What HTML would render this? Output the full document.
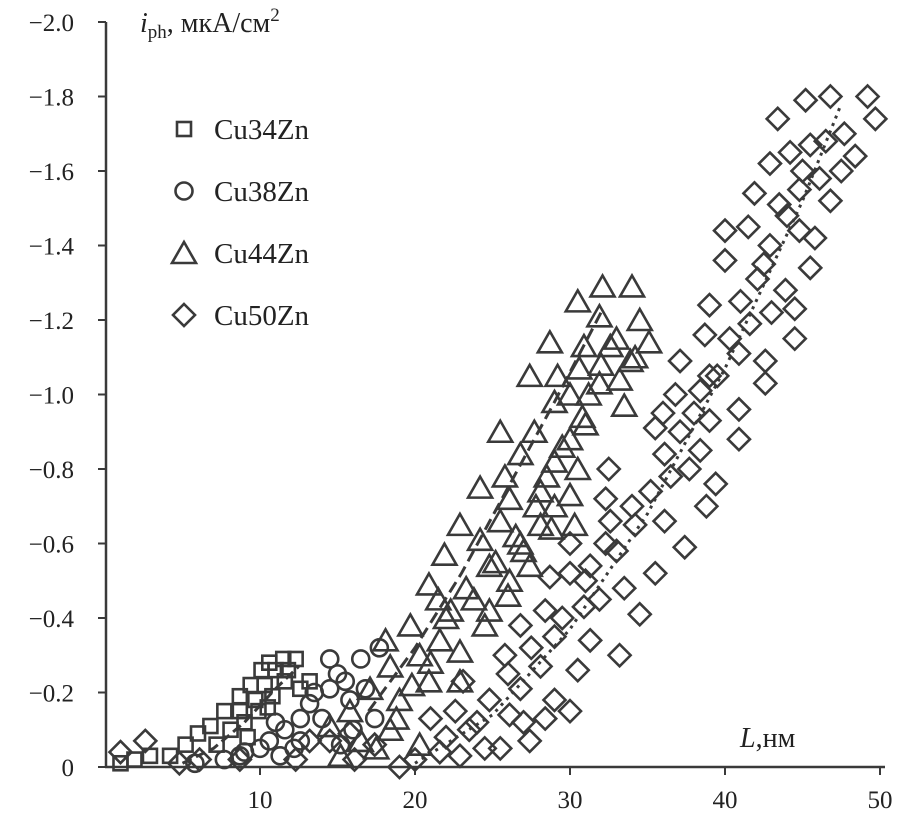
<!DOCTYPE html>
<html><head><meta charset="utf-8"><style>
html,body{margin:0;padding:0;background:#fff;}
svg text{font-family:"Liberation Serif",serif;fill:#222;}
</style></head><body>
<svg id="chart" width="900" height="814" xmlns="http://www.w3.org/2000/svg">
<g id="marks"></g>
<g id="axes"></g>
<text x="140" y="32" font-size="28" font-style="italic">i<tspan font-size="19" dy="6" font-style="normal">ph</tspan><tspan dy="-6" font-style="normal">, мкА/см</tspan><tspan font-size="19" dy="-11" font-style="normal">2</tspan></text>
<text x="740" y="747" font-size="28"><tspan font-style="italic">L</tspan>,нм</text>
<g id="legend"></g>
</svg>
<script>
const NS="http://www.w3.org/2000/svg";
const yTicks=[0,-0.2,-0.4,-0.6,-0.8,-1.0,-1.2,-1.4,-1.6,-1.8,-2.0];
const xTicks=[10,20,30,40,50];
const seriesNames=["Cu34Zn","Cu38Zn","Cu44Zn","Cu50Zn"];
const sqL=[10.6,11.5,12.3,10.1,11.0,9.4,10.3,11.6,8.7,9.7,7.7,8.7,6.8,6.0,5.2,4.2,2.9,1.9,1.0,8.1,9.0,9.9,12.6,13.2,10.8,9.2,10.5,7.2,11.8];
const sqI=[-0.28,-0.29,-0.29,-0.26,-0.26,-0.22,-0.22,-0.23,-0.19,-0.18,-0.15,-0.15,-0.11,-0.09,-0.06,-0.03,-0.03,-0.02,-0.01,-0.10,-0.12,-0.15,-0.21,-0.23,-0.19,-0.08,-0.16,-0.06,-0.26];
const ciL=[17.7,16.5,14.5,15.5,14.5,13.2,12.6,11.6,10.6,10.0,8.7,15.8,14.0,12.6,16.8,15.2,17.4,11.3,7.7,5.8,13.5,15.0,16.0,12.2,11.0,9.0];
const ciI=[-0.32,-0.29,-0.29,-0.23,-0.21,-0.17,-0.13,-0.10,-0.07,-0.05,-0.03,-0.18,-0.13,-0.07,-0.21,-0.06,-0.13,-0.03,-0.02,-0.01,-0.20,-0.25,-0.10,-0.05,-0.12,-0.04];
const trL=[32.1,34.0,30.5,31.9,34.5,28.7,35.1,30.9,32.6,33.9,30.6,27.4,31.9,30.0,29.0,33.5,30.8,25.5,27.7,30.0,26.8,29.0,24.2,28.1,26.1,30.0,22.9,25.5,28.1,30.3,24.2,26.8,21.9,24.8,27.4,20.9,23.3,19.7,22.3,24.8,21.6,20.3,18.1,22.9,18.4,20.9,17.1,15.8,19.0,14.5,16.5,18.4,20.3,15.2,22.9,26.1,29.0,25.2,26.5,27.8,28.5,29.5,31.2,32.0,33.0,31.0,27.0,23.8,22.0,21.0,19.8,18.8,17.5,24.5,26.0,28.8,30.5,33.2,34.2,21.5,25.8,29.2];
const trI=[-1.29,-1.29,-1.25,-1.21,-1.20,-1.14,-1.14,-1.13,-1.13,-1.09,-1.07,-1.05,-1.03,-1.00,-0.98,-0.97,-0.94,-0.90,-0.90,-0.88,-0.84,-0.82,-0.75,-0.74,-0.72,-0.73,-0.65,-0.66,-0.65,-0.65,-0.61,-0.60,-0.57,-0.54,-0.54,-0.49,-0.48,-0.38,-0.42,-0.42,-0.34,-0.30,-0.34,-0.31,-0.27,-0.23,-0.21,-0.15,-0.18,-0.11,-0.07,-0.10,-0.06,-0.03,-0.23,-0.50,-0.70,-0.55,-0.62,-0.70,-0.78,-0.86,-1.00,-1.08,-1.15,-0.92,-0.58,-0.45,-0.40,-0.28,-0.22,-0.13,-0.05,-0.38,-0.46,-0.64,-0.80,-1.04,-1.10,-0.45,-0.78,-1.05];
const diL=[46.8,45.2,49.2,49.7,43.4,47.7,45.5,44.2,48.4,42.9,46.1,44.8,41.9,46.8,43.5,40.0,44.8,42.9,40.0,45.5,42.1,43.9,39.0,44.5,41.6,40.3,44.5,38.7,40.9,42.6,37.1,39.0,42.6,38.4,40.9,39.0,37.1,35.5,40.9,38.4,36.1,32.5,37.7,35.2,39.4,32.3,36.1,34.2,32.6,37.4,35.5,32.3,30.0,31.3,28.7,30.0,34.5,30.9,28.4,31.9,26.8,29.0,31.3,33.2,25.8,28.1,23.1,26.8,29.0,24.8,22.6,26.1,28.4,30.0,21.0,23.5,27.4,25.5,21.6,19.0,20.0,22.9,15.8,14.5,17.4,13.2,8.7,6.1,2.6,1.0,4.8,12.3,16.1,24,26,27.5,29.5,31,33,34,36.5,38,39.5,41,42.5,44,45,46.5,47.5,43,38.8,36,33.5,27,30.5,22,24.5,36.8,45.8,41.5];
const diI=[-1.80,-1.79,-1.80,-1.74,-1.74,-1.70,-1.67,-1.65,-1.64,-1.62,-1.58,-1.55,-1.54,-1.52,-1.51,-1.44,-1.44,-1.40,-1.36,-1.34,-1.31,-1.28,-1.24,-1.23,-1.19,-1.15,-1.15,-1.16,-1.11,-1.09,-1.09,-1.05,-1.03,-1.01,-0.96,-0.93,-0.90,-0.91,-0.88,-0.85,-0.84,-0.80,-0.80,-0.74,-0.76,-0.72,-0.66,-0.65,-0.66,-0.59,-0.52,-0.60,-0.60,-0.54,-0.51,-0.52,-0.41,-0.43,-0.42,-0.45,-0.38,-0.35,-0.34,-0.30,-0.30,-0.27,-0.23,-0.21,-0.18,-0.18,-0.15,-0.14,-0.13,-0.15,-0.13,-0.10,-0.07,-0.05,-0.04,0,-0.02,-0.03,-0.09,-0.07,-0.06,-0.07,-0.02,-0.02,-0.07,-0.04,-0.01,-0.02,-0.02,-0.12,-0.25,-0.32,-0.40,-0.50,-0.58,-0.70,-0.78,-0.95,-1.05,-1.25,-1.35,-1.48,-1.60,-1.68,-1.60,-1.22,-0.70,-0.95,-0.48,-0.12,-0.26,-0.08,-0.05,-1.00,-1.42,-1.45];
const fitSqL=[5,7,9,11,12.5];const fitSqI=[-0.01,-0.05,-0.12,-0.21,-0.27];
const fitTrL=[17,20,23,26,29,32];const fitTrI=[-0.15,-0.32,-0.52,-0.75,-0.98,-1.22];
const fitDiL=[20,25,30,35,40,45,47.5];const fitDiI=[-0.01,-0.14,-0.37,-0.68,-1.07,-1.52,-1.78];

const xS=v=>105+v*15.5;
const yS=v=>767+v*372.5;
const C="#3a3a3a";
const marks=document.getElementById('marks'),axes=document.getElementById('axes'),legend=document.getElementById('legend');
function mk(tag,attrs,parent){const e=document.createElementNS(NS,tag);for(const k in attrs)e.setAttribute(k,attrs[k]);parent.appendChild(e);return e;}
function shape(kind,cx,cy,parent){
  const st={fill:"none",stroke:C,"stroke-width":2.6};
  let e;
  if(kind===0){e=mk('rect',Object.assign({x:cx-7,y:cy-7,width:14,height:14},st),parent);}
  else if(kind===1){e=mk('circle',Object.assign({cx:cx,cy:cy,r:8.5},st),parent);}
  else if(kind===2){e=mk('polygon',Object.assign({points:`${cx},${cy-11} ${cx+12},${cy+10} ${cx-12},${cy+10}`},st),parent);}
  else {e=mk('polygon',Object.assign({points:`${cx},${cy-11} ${cx+11},${cy} ${cx},${cy+11} ${cx-11},${cy}`},st),parent);}
  return e;
}
const sets=[[sqL,sqI],[ciL,ciI],[trL,trI],[diL,diI]];
sets.forEach((s,k)=>{
  s[0].forEach((L,i)=>{
    const e=shape(k,xS(L),yS(s[1][i]),marks);
    
    
  });
});
function fit(Ls,Is,dash,name){
  const p=mk('polyline',{points:Ls.map((L,i)=>xS(L)+','+yS(Is[i])).join(' '),fill:'none',stroke:C,'stroke-width':3,'stroke-dasharray':dash},marks);
  
  
}
fit(fitSqL,fitSqI,'10,5','trend-cu34zn');
fit(fitTrL,fitTrI,'12,6','trend-cu44zn');
fit(fitDiL,fitDiI,'3,5','trend-cu50zn');
const ya=mk('line',{x1:106,y1:22,x2:106,y2:768,stroke:C,'stroke-width':2.5},axes);

const xa=mk('line',{x1:105,y1:767,x2:885,y2:767,stroke:C,'stroke-width':2.5},axes);

yTicks.forEach(v=>{
  const t=mk('line',{x1:98,y1:yS(v),x2:106,y2:yS(v),stroke:C,'stroke-width':2},axes);
  
  const lb=mk('text',{x:74,y:yS(v)+9,'font-size':25,'text-anchor':'end'},axes);
  lb.textContent=v===0?'0':'\u2212'+Math.abs(v).toFixed(1);
  
});
xTicks.forEach(v=>{
  const t=mk('line',{x1:xS(v),y1:767,x2:xS(v),y2:775,stroke:C,'stroke-width':2},axes);
  
  const lb=mk('text',{x:xS(v),y:808,'font-size':25,'text-anchor':'middle'},axes);
  lb.textContent=v;
  
});
seriesNames.forEach((n,k)=>{
  const y=129+k*62;
  const e=shape(k,184,y,legend);
  
  
  const t=mk('text',{x:214,y:y+10,'font-size':29},legend);
  t.textContent=n;
  
  
});
</script>
</body></html>
